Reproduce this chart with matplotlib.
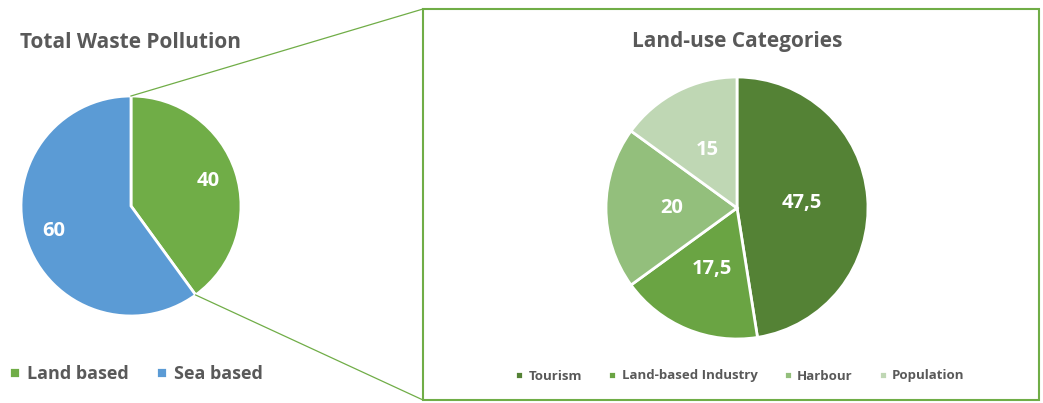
import numpy as np
import matplotlib
matplotlib.use("Agg")
import matplotlib.pyplot as plt
from matplotlib.patches import Rectangle

plt.rcParams['font.family'] = ['Open Sans', 'DejaVu Sans']

# Data
waste_labels = ['Land based', 'Sea based']
waste_values = [40, 60]
waste_colors = ['#70AD47', '#5B9BD5']

land_labels = ['Tourism', 'Land-based Industry', 'Harbour', 'Population']
land_values = [47.5, 17.5, 20, 15]
land_colors = ['#548235', '#6AA443', '#93BF7C', '#BFD7B4']

grey = '#595959'

fig = plt.figure(figsize=(10.43, 4.03), dpi=100)
ax = fig.add_axes([0, 0, 1, 1])

def fmt(v):
    return ('%g' % v).replace('.', ',')

# Left pie (y axis is flipped later, so counterclock=True draws clockwise on screen)
c1, r1 = (131, 206), 110
w1, t1, a1 = ax.pie(waste_values, colors=waste_colors, center=c1, radius=r1,
                    startangle=-90, counterclock=True,
                    autopct=lambda p: fmt(round(p)), pctdistance=0.74,
                    wedgeprops=dict(edgecolor='white', linewidth=2),
                    textprops=dict(color='white', fontsize=14.5, fontweight='bold'))

# Right pie
c2, r2 = (737, 208), 131
w2, t2, a2 = ax.pie(land_values, colors=land_colors, center=c2, radius=r2,
                    startangle=-90, counterclock=True,
                    autopct=lambda p: fmt(round(p * sum(land_values) / 100, 1)), pctdistance=0.5,
                    wedgeprops=dict(edgecolor='white', linewidth=2),
                    textprops=dict(color='white', fontsize=14.5, fontweight='bold'))

ax.set_xlim(0, 1043)
ax.set_ylim(403, 0)
ax.set_aspect('equal')
ax.axis('off')

# Box around the detail pie
ax.add_patch(Rectangle((423, 9), 616, 391, fill=False, edgecolor='#70AD47', linewidth=1.5))

# Connector lines
ang = np.deg2rad(90 - 360 * waste_values[0] / sum(waste_values))
ax.plot([c1[0], 423], [c1[1] - r1, 9], color='#70AD47', linewidth=0.9)
ax.plot([c1[0] + r1 * np.cos(ang), 423], [c1[1] - r1 * np.sin(ang), 400], color='#70AD47', linewidth=0.9)

# Titles
ax.text(130, 42, 'Total Waste Pollution', ha='center', va='center', fontsize=15, fontweight='bold', color=grey)
ax.text(737, 42, 'Land-use Categories', ha='center', va='center', fontsize=15, fontweight='bold', color=grey)

# Legends
leg1 = ax.legend(w1, waste_labels, loc='center', bbox_to_anchor=(136, 374), bbox_transform=ax.transData,
                 ncol=2, frameon=False, handlelength=0.6, handleheight=0.6, handletextpad=0.4,
                 columnspacing=1.5, labelcolor=grey, prop=dict(weight='bold', size=13))
ax.add_artist(leg1)
ax.legend(w2, land_labels, loc='center', bbox_to_anchor=(740, 376), bbox_transform=ax.transData,
          ncol=4, frameon=False, handlelength=0.6, handleheight=0.6, handletextpad=0.4,
          columnspacing=2.0, labelcolor=grey, prop=dict(weight='bold', size=9.5))

fig.savefig('out.png', dpi=100)
